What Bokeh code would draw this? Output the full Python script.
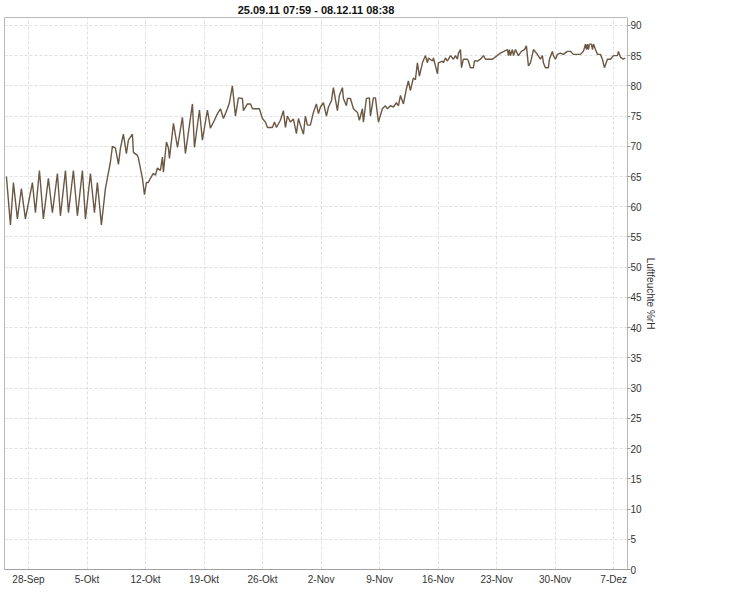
from bokeh.plotting import figure
from bokeh.models import Range1d, FixedTicker
from bokeh.embed import file_html
from bokeh.resources import INLINE

# Time as fractional days since 25.09.2011 00:00, relative humidity in %
days = [0.36, 0.84, 1.20, 1.67, 2.15, 2.63, 3.47, 3.83, 4.31, 4.78, 5.38, 5.86, 6.46, 6.82,
        7.42, 7.78, 8.37, 8.85, 9.45, 9.81, 10.41, 10.89, 11.24, 11.72, 12.20, 12.80, 13.04,
        13.40, 13.76, 14.00, 14.35, 14.71, 14.95, 15.43, 15.55, 16.03, 16.15, 16.63, 16.87,
        17.11, 17.34, 17.58, 17.94, 18.18, 18.42, 18.78, 19.02, 19.14, 19.50, 19.74, 19.86,
        20.34, 20.82, 21.41, 21.77, 22.61, 22.85, 23.45, 23.80, 24.40, 24.76, 25.24, 25.60,
        25.96, 26.32, 26.79, 27.03, 27.39, 27.75, 28.11, 28.59, 28.71, 29.19, 29.55, 29.79,
        30.62, 30.98, 31.34, 31.58, 32.18, 32.42, 32.66, 33.13, 33.49, 33.73, 33.97, 34.33,
        34.69, 35.05, 35.29, 35.53, 35.89, 36.12, 36.36, 36.72, 37.08, 37.44, 37.68, 37.92,
        38.28, 38.64, 38.88, 39.23, 39.47, 39.95, 40.19, 40.55, 40.67, 41.03, 41.15, 41.51,
        41.87, 42.35, 42.58, 42.94, 43.06, 43.42, 43.78, 43.90, 44.26, 44.50, 44.86, 45.33,
        45.69, 45.93, 46.29, 46.65, 47.01, 47.25, 47.49, 47.85, 48.20, 48.44, 48.68, 49.04,
        49.28, 49.52, 49.76, 50.12, 50.48, 50.72, 50.84, 51.32, 51.44, 51.68, 51.92, 52.03,
        52.51, 52.63, 52.87, 53.11, 53.47, 53.83, 54.07, 54.31, 54.43, 54.67, 54.79, 55.02,
        55.50, 55.62, 55.86, 56.22, 56.34, 56.70, 57.06, 57.42, 57.66, 58.49, 59.45, 60.29,
        60.41, 60.53, 60.65, 60.89, 61.01, 61.25, 61.60, 61.96, 62.32, 62.56, 62.80, 63.04,
        63.28, 63.40, 63.87, 64.23, 64.47, 64.59, 64.83, 65.19, 65.31, 65.67, 65.79, 66.03,
        66.27, 66.62, 66.98, 67.46, 67.82, 68.18, 68.42, 69.02, 69.38, 69.62, 69.74, 69.86,
        69.98, 70.10, 70.34, 70.46, 70.58, 70.82, 71.06, 71.41, 71.65, 71.89, 72.25, 72.61,
        72.97, 73.45, 73.57, 73.81, 74.16, 74.36]

rh = [65, 57, 64, 58, 63, 58, 64, 59, 66, 58, 64.7, 59, 65.5, 58.5,
      66, 59, 66, 58.5, 66, 58, 65.5, 59, 64, 57, 63, 67.4, 70,
      69.7, 67, 69.7, 72, 68.8, 71, 72, 69, 68.5, 68, 64.7, 62,
      64, 64, 64.7, 65.5, 65.2, 66.4, 66, 68.2, 65.7, 70.7, 69.7, 68,
      73.8, 69.8, 74.8, 68.8, 77, 69.8, 76, 71, 76, 73, 74.3, 75.4,
      76.2, 74.6, 76.2, 77.2, 80, 75, 78, 77.9, 75.9, 77, 77, 76.2,
      76.2, 74.6, 74, 73.1, 73.1, 74, 73.1, 74.3, 75.9, 73.1, 75, 74,
      74.5, 72.1, 74.6, 73.5, 72, 75, 73.5, 73.5, 75.6, 77, 75.4, 76.5,
      77.2, 75, 76.5, 77.5, 79.7, 75.9, 78.4, 79.7, 77.9, 76.7, 77.9, 77.9,
      76.2, 75.6, 74.3, 76.2, 74, 77.9, 78, 75, 78, 78, 74, 76.2,
      76.7, 76.2, 76.7, 76.5, 77.2, 76.7, 78.4, 77, 79.5, 80.8, 79.2, 81.3,
      81, 83.8, 81.6, 83.8, 85, 83.8, 84.6, 84.1, 84.6, 83.3, 82, 83.8,
      84.1, 83.8, 84.6, 84.1, 85, 84.4, 85, 84.4, 85.4, 86, 83, 84.4,
      84.4, 84.1, 83, 83, 84.1, 84.1, 84.4, 85, 84.4, 84.4, 85.4, 86,
      85, 86, 85, 86, 85, 86, 85, 85.7, 86, 86.6, 83.3, 83.8,
      85.2, 86, 85.2, 84.4, 85, 83.8, 83, 83, 84.4, 85.7, 85, 84.4,
      85.2, 85.4, 85.2, 85.7, 85.7, 85.2, 85.2, 85.2, 85.7, 86.9, 86, 86.9,
      86, 86.9, 86.9, 86, 86.9, 86, 85.2, 85.2, 84.4, 83, 84.4, 84.4,
      85, 85, 85.7, 84.7, 84.4, 84.6]

tick_days = [3, 10, 17, 24, 31, 38, 45, 52, 59, 66, 73]
tick_labels = ["28-Sep", "5-Okt", "12-Okt", "19-Okt", "26-Okt", "2-Nov", "9-Nov",
               "16-Nov", "23-Nov", "30-Nov", "7-Dez"]
y_ticks = list(range(0, 91, 5))

title_text = "25.09.11 07:59 - 08.12.11 08:38"
y_label = "Luftfeuchte %rH"

FONT = "'Liberation Sans Narrow', 'Liberation Sans', Arial, sans-serif"

p = figure(frame_width=623, frame_height=552, output_backend="svg", toolbar_location=None,
           x_range=Range1d(0.13, 74.65), y_range=Range1d(0, 91.3),
           y_axis_location="right",
           min_border_left=4, min_border_right=4, min_border_top=0, min_border_bottom=0,
           background_fill_color="white", border_fill_color="white")

p.title.text = title_text
p.title.align = "center"
p.title.text_font = FONT
p.title.text_font_size = "11px"
p.title.text_font_style = "bold"
p.title.text_color = "#111111"
p.title.standoff = 3

p.line(days, rh, line_color="#6b5843", line_width=1.4)

p.outline_line_color = "#b8b8b8"

xt = FixedTicker(ticks=tick_days)
yt = FixedTicker(ticks=y_ticks)
p.xaxis.ticker = xt
p.yaxis.ticker = yt
p.xgrid.ticker = xt
p.ygrid.ticker = yt
p.xaxis.major_label_overrides = {d: l for d, l in zip(tick_days, tick_labels)}

for g in (p.xgrid, p.ygrid):
    g.grid_line_color = "#e0e0e0"
    g.grid_line_dash = "3 2"
    g.grid_line_width = 1

p.xaxis.major_tick_out = 0
p.xaxis.major_tick_in = 0
p.xaxis.minor_tick_out = 0
p.xaxis.minor_tick_in = 0
p.xaxis.axis_line_color = "#a0a0a0"
p.xaxis.major_label_standoff = 4
p.xaxis.major_label_text_font = FONT
p.xaxis.major_label_text_font_size = "10px"
p.xaxis.major_label_text_color = "#333333"

p.yaxis.axis_line_color = None
p.yaxis.major_tick_out = 3
p.yaxis.major_tick_in = 0
p.yaxis.minor_tick_out = 0
p.yaxis.minor_tick_in = 0
p.yaxis.major_tick_line_color = "#999999"
p.yaxis.major_label_standoff = 0
p.yaxis.major_label_text_font = FONT
p.yaxis.major_label_text_font_size = "10px"
p.yaxis.major_label_text_color = "#333333"
p.yaxis.axis_label = y_label
p.yaxis.axis_label_text_font = FONT
p.yaxis.axis_label_text_font_size = "10px"
p.yaxis.axis_label_text_font_style = "normal"
p.yaxis.axis_label_text_color = "#333333"
p.yaxis.axis_label_standoff = 0

html = file_html(p, INLINE)
open("out.html", "w").write(html)
